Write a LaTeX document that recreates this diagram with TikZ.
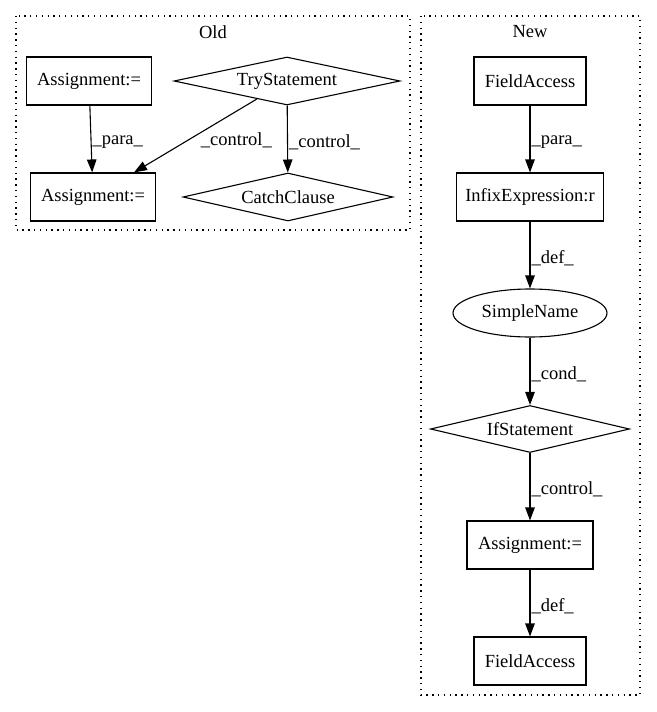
\documentclass[tikz,border=0pt]{standalone}
\usepackage{fontspec}
\setmainfont{Liberation Serif}
\usetikzlibrary{shapes.geometric,arrows.meta}

\begin{document}
\begin{tikzpicture}[x=1pt, y=-1pt, line width=1.1pt,
    every node/.style={font=\fontsize{18.5}{22}\selectfont},
    box/.style={draw, rectangle, minimum height=48pt, inner sep=0pt},
    cond/.style={draw, diamond, minimum height=48pt, inner sep=0pt},
    oval/.style={draw, ellipse, minimum width=154pt, minimum height=48pt, inner sep=0pt},
    edge/.style={-{Triangle[length=13pt,width=9.5pt]}},
    lbl/.style={anchor=west, inner sep=1pt},
    cluster/.style={dash pattern=on 1.3pt off 4.5pt}]
    \useasboundingbox (0,0) rectangle (656,712);

    % Old cluster
    \draw[cluster] (16,16) rectangle (410,230);
    \node (old) at (213,32) {Old};
    \node[box, minimum width=125pt] (asgA) at (89,81) {Assignment:=};
    \node[cond, minimum width=226pt, aspect=4.7] (try) at (287,81) {TryStatement};
    \node[box, minimum width=125pt] (asgB) at (93,197) {Assignment:=};
    \node[cond, minimum width=210pt, aspect=4.37] (catch) at (288,197) {CatchClause};

    % Old edges
    \draw[edge] (asgA) -- (asgB) node[lbl, midway, yshift=-3pt] {\_para\_};
    \draw[edge] (try) -- (asgB) node[lbl, midway, xshift=4pt, yshift=-5pt] {\_control\_};
    \draw[edge] (try) -- (catch) node[lbl, midway, yshift=-3pt] {\_control\_};

    % New cluster
    \draw[cluster] (421,16) rectangle (640,695);
    \node (new) at (530,32) {New};
    \node[box, minimum width=112pt] (faA) at (530,81) {FieldAccess};
    \node[box, minimum width=147pt] (infix) at (530,197) {InfixExpression:r};
    \node[oval] (sname) at (530,313) {SimpleName};
    \node[cond, minimum width=199pt, minimum height=47pt, aspect=4.23] (ifst) at (530,429) {IfStatement};
    \node[box, minimum width=126pt] (asgC) at (530,545) {Assignment:=};
    \node[box, minimum width=112pt] (faB) at (530,661) {FieldAccess};

    % New edges
    \draw[edge] (faA) -- (infix) node[lbl, midway, yshift=-3pt] {\_para\_};
    \draw[edge] (infix) -- (sname) node[lbl, midway, yshift=-3pt] {\_def\_};
    \draw[edge] (sname) -- (ifst) node[lbl, midway, yshift=-3pt] {\_cond\_};
    \draw[edge] (ifst) -- (asgC) node[lbl, midway, yshift=-3pt] {\_control\_};
    \draw[edge] (asgC) -- (faB) node[lbl, midway, yshift=-3pt] {\_def\_};
\end{tikzpicture}
\end{document}
